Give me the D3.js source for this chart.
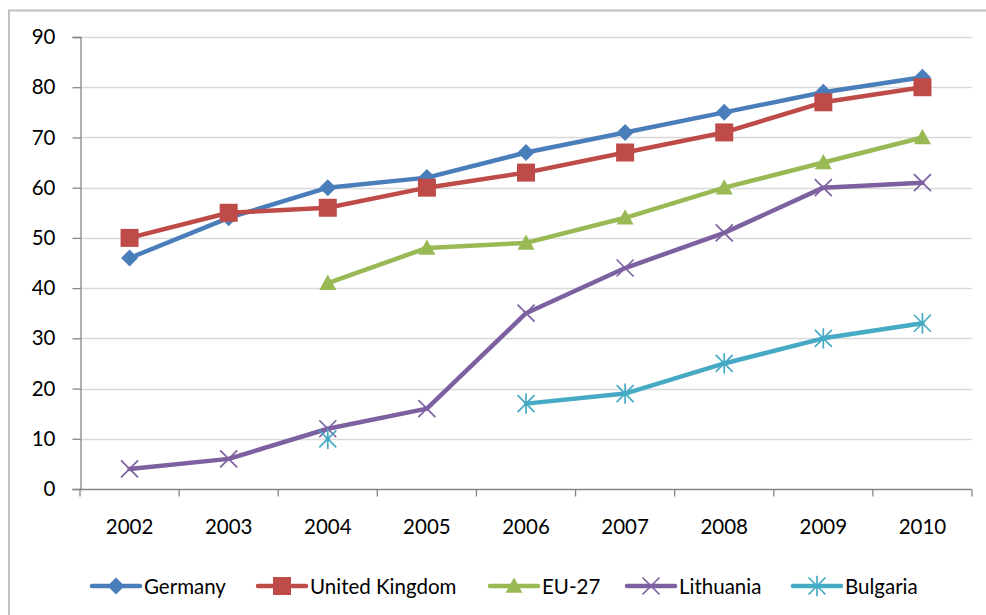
<!DOCTYPE html>
<html><head><meta charset="utf-8">
<script src="https://cdn.jsdelivr.net/npm/d3@7"></script>
<style>body{margin:0;background:#fff}svg{display:block}</style>
</head><body>
<svg id="c" width="986" height="615"></svg>
<script>
const years = ["2002","2003","2004","2005","2006","2007","2008","2009","2010"];
const yTicks = [0,10,20,30,40,50,60,70,80,90];
const germany = [46,54,60,62,67,71,75,79,82];
const uk = [50,55,56,60,63,67,71,77,80];
const eu27 = [null,null,41,48,49,54,60,65,70];
const lithuania = [4,6,12,16,35,44,51,60,61];
const bulgaria = [null,null,10,null,17,19,25,30,33];

const series = [
  {name:"Germany", values:germany, color:"#4a7ebb", marker:"diamond"},
  {name:"United Kingdom", values:uk, color:"#be4b48", marker:"square"},
  {name:"EU-27", values:eu27, color:"#98b954", marker:"triangle"},
  {name:"Lithuania", values:lithuania, color:"#7d60a0", marker:"x"},
  {name:"Bulgaria", values:bulgaria, color:"#46aac5", marker:"star"}
];

const svg = d3.select("#c");
const font = "Lato, 'Liberation Sans', sans-serif";
const FS = 20.5;
svg.append("rect").attr("x",9).attr("y",10.5).attr("width",990).attr("height",620)
  .attr("fill","none").attr("stroke","#c0c0c0").attr("stroke-width",2);

const L=80, R=972, T=37, B=489;
const x = d3.scaleBand().domain(years).range([L,R]);
const y = d3.scaleLinear().domain([0,90]).range([B,T]);

svg.append("g").selectAll("line").data(yTicks.filter(d=>d>0)).join("line")
  .attr("x1",L).attr("x2",R).attr("y1",d=>Math.round(y(d))+0.5).attr("y2",d=>Math.round(y(d))+0.5)
  .attr("stroke","#d9d9d9").attr("stroke-width",1.5);

const yAxis = svg.append("g").attr("transform",`translate(${L+0.5},0)`)
  .call(d3.axisLeft(y).tickValues(yTicks).tickSize(8).tickPadding(17).tickFormat(d3.format("d")));
const xAxis = svg.append("g").attr("transform",`translate(0,${B+0.5})`)
  .call(d3.axisBottom(x).tickSize(0).tickPadding(30));
xAxis.selectAll(".bound").data(years.concat(["end"])).join("line").attr("class","bound")
  .attr("x1",(d,i)=>L+i*x.step()).attr("x2",(d,i)=>L+i*x.step()).attr("y1",0).attr("y2",7)
  .attr("stroke","#868686").attr("stroke-width",1.3);
[yAxis,xAxis].forEach(a=>{
  a.select(".domain").attr("stroke","#868686").attr("stroke-width",1.3);
  a.selectAll(".tick line").attr("stroke","#868686").attr("stroke-width",1.3);
  a.selectAll("text").attr("font-family",font).attr("font-size",FS).attr("fill","#000");
});
xAxis.select(".domain").attr("d",`M${L},0H${R}`);

const cx = d => x(d)+x.bandwidth()/2;

function marker(g, type, color, s){
  if(type==="diamond"){
    g.append("path").attr("d",`M0,${-s}L${s},0L0,${s}L${-s},0Z`).attr("fill",color);
  } else if(type==="square"){
    g.append("rect").attr("x",-s).attr("y",-s).attr("width",2*s).attr("height",2*s).attr("fill",color);
  } else if(type==="triangle"){
    g.append("path").attr("d",`M0,${-s}L${s},${s*0.8}L${-s},${s*0.8}Z`).attr("fill",color);
  } else if(type==="x"){
    g.append("path").attr("d",`M${-s},${-s}L${s},${s}M${-s},${s}L${s},${-s}`).attr("stroke",color).attr("stroke-width",1.7);
  } else if(type==="star"){
    g.append("path").attr("d",`M${-s},${-s}L${s},${s}M${-s},${s}L${s},${-s}M0,${-s*1.2}L0,${s*1.2}`).attr("stroke",color).attr("stroke-width",1.7);
  }
}
const msize = {diamond:8.5,square:9,triangle:8.5,x:8.5,star:8.5};

const line = d3.line().defined(d=>d.v!==null).x(d=>cx(d.k)).y(d=>y(d.v));
series.forEach(s=>{
  const pts = years.map((k,i)=>({k,v:s.values[i]}));
  svg.append("path").datum(pts).attr("d",line).attr("fill","none")
    .attr("stroke",s.color).attr("stroke-width",4.5).attr("stroke-linejoin","round").attr("stroke-linecap","round");
  pts.filter(p=>p.v!==null).forEach(p=>{
    const g = svg.append("g").attr("transform",`translate(${cx(p.k)},${y(p.v)})`);
    marker(g, s.marker, s.color, msize[s.marker]);
  });
});

const legX = [92,258,490,627,793];
series.forEach((s,i)=>{
  const g = svg.append("g").attr("transform",`translate(${legX[i]},586)`);
  g.append("line").attr("x1",0).attr("x2",48).attr("stroke",s.color).attr("stroke-width",4.5).attr("stroke-linecap","round");
  const m = g.append("g").attr("transform","translate(24,0)");
  marker(m, s.marker, s.color, msize[s.marker]);
  g.append("text").attr("x",52).attr("y",1).attr("dy","0.35em").text(s.name)
    .attr("font-family",font).attr("font-size",FS).attr("fill","#000");
});
</script>
</body></html>
